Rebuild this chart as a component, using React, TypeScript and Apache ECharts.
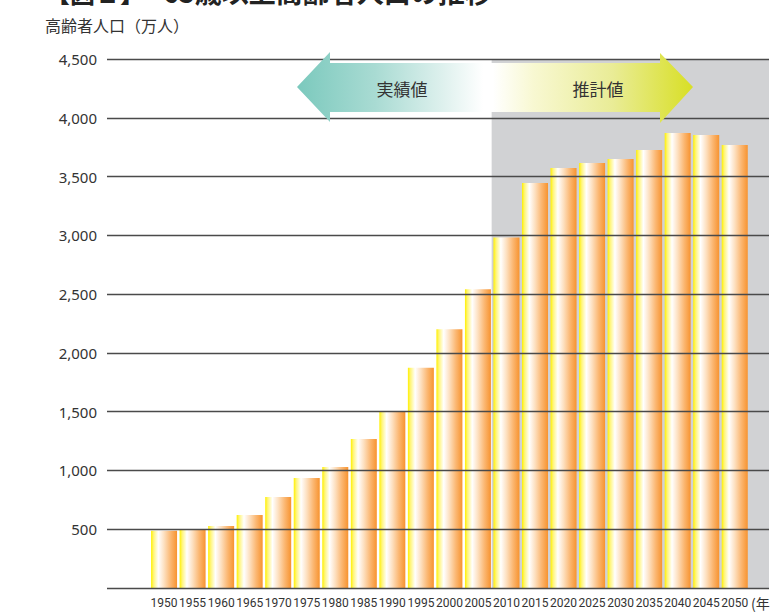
import React, { useEffect, useRef } from "react";
import * as echarts from "echarts";

const years = [1950, 1955, 1960, 1965, 1970, 1975, 1980, 1985, 1990, 1995, 2000, 2005, 2010, 2015, 2020, 2025, 2030, 2035, 2040, 2045, 2050];
const elderly = [488, 500, 527, 621, 774, 936, 1029, 1267, 1497, 1873, 2202, 2542, 2982, 3445, 3573, 3615, 3649, 3726, 3870, 3853, 3768];
const yTicks = [500, 1000, 1500, 2000, 2500, 3000, 3500, 4000, 4500];
const actualLabel = "実績値";
const forecastLabel = "推計値";
const forecastStart = 2007.4;

export default function App() {
  const ref = useRef<HTMLDivElement>(null);
  useEffect(() => {
    if (!ref.current) return;
    const chart = echarts.init(ref.current, null, { renderer: "svg" });
    const barFill = new echarts.graphic.LinearGradient(0, 0, 1, 0, [
      { offset: 0, color: "#fff000" },
      { offset: 0.1, color: "#fff57a" },
      { offset: 0.28, color: "#ffffff" },
      { offset: 0.5, color: "#fde0c0" },
      { offset: 0.75, color: "#fbb772" },
      { offset: 1, color: "#f7932f" },
    ]);
    const cjk = '"Noto Sans CJK JP", "Noto Sans", sans-serif';
    const option: any = {
      animation: false,
      grid: { left: 107, right: 0, top: 59, bottom: 25 },
      xAxis: {
        type: "value",
        min: 1940,
        max: 2056,
        interval: 5,
        splitLine: { show: false },
        axisLine: { show: false },
        axisTick: { show: false },
        axisLabel: {
          margin: 9,
          color: "#333",
          fontSize: 12,
          fontFamily: "Roboto, sans-serif",
          formatter: (v: number) => (years.indexOf(v) >= 0 ? String(v) : ""),
        },
      },
      yAxis: {
        type: "value",
        min: 0,
        max: 4500,
        interval: 500,
        z: 10,
        axisLine: { show: false },
        axisTick: { show: false },
        splitLine: { show: true, lineStyle: { color: "#4a4a4a", width: 1.4 } },
        axisLabel: {
          margin: 10,
          color: "#333",
          fontSize: 15,
          fontFamily: '"Noto Sans", sans-serif',
          formatter: (v: number) => (yTicks.indexOf(v) >= 0 ? v.toLocaleString("en-US") : ""),
        },
      },
      series: [
        {
          type: "bar",
          barWidth: 26,
          data: years.map((y, i) => [y, elderly[i]]),
          itemStyle: { color: barFill },
          markArea: {
            silent: true,
            itemStyle: { color: "#d1d2d4" },
            data: [[{ coord: [forecastStart, 0] }, { coord: [2056, 4500] }]],
          },
        },
      ],
      graphic: [
        {
          type: "text",
          left: 45,
          top: -21,
          style: { text: "【図１】", fontSize: 25, fontWeight: "bold", fill: "#222", fontFamily: cjk },
        },
        {
          type: "text",
          left: 163,
          top: -22,
          style: { text: "65歳以上高齢者人口の推移", fontSize: 27, fontWeight: "bold", fill: "#222", fontFamily: cjk },
        },
        {
          type: "text",
          left: 45,
          top: 17,
          style: { text: "高齢者人口（万人）", fontSize: 16, fill: "#333", fontFamily: cjk },
        },
        {
          type: "polygon",
          z: 20,
          shape: {
            points: [
              [297, 87], [330, 52], [330, 63], [493, 63], [493, 112], [330, 112], [330, 122],
            ],
          },
          style: {
            fill: new echarts.graphic.LinearGradient(0, 0, 1, 0, [
              { offset: 0, color: "#7bc9bd" },
              { offset: 0.4, color: "#a9dbd3" },
              { offset: 0.75, color: "#dff1ee" },
              { offset: 0.95, color: "#ffffff" },
              { offset: 1, color: "#ffffff" },
            ]),
          },
        },
        {
          type: "polygon",
          z: 20,
          shape: {
            points: [
              [493, 63], [660, 63], [660, 53], [693, 87], [660, 123], [660, 112], [493, 112],
            ],
          },
          style: {
            fill: new echarts.graphic.LinearGradient(0, 0, 1, 0, [
              { offset: 0, color: "#ffffff" },
              { offset: 0.2, color: "#f8f8d2" },
              { offset: 0.6, color: "#e9ec96" },
              { offset: 1, color: "#d8df25" },
            ]),
          },
        },
        {
          type: "text",
          z: 21,
          x: 402,
          y: 88,
          style: { text: actualLabel, fontSize: 17, fill: "#333", fontFamily: cjk, align: "center", verticalAlign: "middle" },
        },
        {
          type: "text",
          z: 21,
          x: 598,
          y: 88,
          style: { text: forecastLabel, fontSize: 17, fill: "#333", fontFamily: cjk, align: "center", verticalAlign: "middle" },
        },
        {
          type: "text",
          z: 21,
          x: 751,
          y: 603,
          style: { text: "(年", fontSize: 14, fill: "#333", fontFamily: cjk, align: "left", verticalAlign: "middle" },
        },
      ],
    };
    chart.setOption(option);
    return () => chart.dispose();
  }, []);
  return <div ref={ref} style={{ width: 772, height: 613, position: "absolute", left: 0, top: 0 }} />;
}
